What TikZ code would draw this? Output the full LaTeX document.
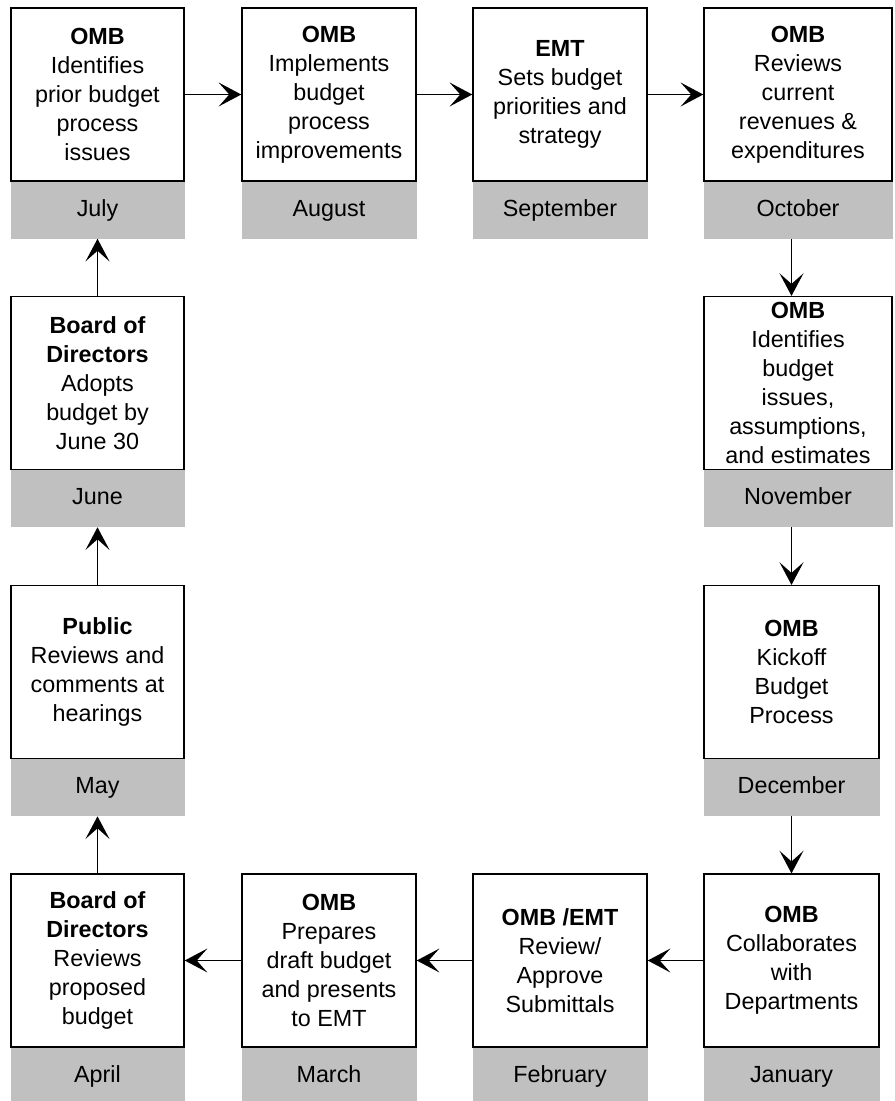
\documentclass[tikz,border=0pt]{standalone}
\usepackage{fontspec}
\setmainfont{Liberation Sans}
\usetikzlibrary{positioning,arrows.meta}
\definecolor{monthgray}{RGB}{192,192,192}
\begin{document}
\begin{tikzpicture}[x=0.75pt,y=-0.75pt,
  stepbox/.style={draw, line width=1.1pt, minimum width=#1, minimum height=129.5pt, align=center, inner sep=2pt, font=\fontsize{17.5}{21.75}\selectfont},
  monthbox/.style={fill=monthgray, minimum width=#1, minimum height=42.5pt, inner sep=0pt, text height=12.5pt, text depth=3.5pt, font=\fontsize{17.5}{21.75}\selectfont},
  arr/.style={line width=1.1pt, -{Stealth[length=17pt, width=18pt, inset=8pt]}}]
\useasboundingbox (0,0) rectangle (894,1101);
\node[stepbox=129.75pt] (jul) at (97.5,94.5){\textbf{OMB}\\Identifies\\prior budget\\process\\issues};
\node[monthbox=130.5pt, below=0pt of jul] (jul-m){July};
\node[stepbox=130.5pt] (aug) at (329,94.5){\textbf{OMB}\\Implements\\budget\\process\\improvements};
\node[monthbox=131.25pt, below=0pt of aug] (aug-m){August};
\node[stepbox=130.5pt] (sep) at (560,94.5){\textbf{EMT}\\Sets budget\\priorities and\\strategy};
\node[monthbox=131.25pt, below=0pt of sep] (sep-m){September};
\node[stepbox=141pt] (oct) at (798,94.5){\textbf{OMB}\\Reviews\\current\\revenues \&\\expenditures};
\node[monthbox=141.75pt, below=0pt of oct] (oct-m){October};
\node[stepbox=141pt] (nov) at (798,383){\textbf{OMB}\\Identifies\\budget\\issues,\\assumptions,\\and estimates};
\node[monthbox=141.75pt, below=0pt of nov] (nov-m){November};
\node[stepbox=131.25pt] (dec) at (791.5,672){\textbf{OMB}\\Kickoff\\Budget\\Process};
\node[monthbox=132pt, below=0pt of dec] (dec-m){December};
\node[stepbox=131.25pt] (jan) at (791.5,960.5){\textbf{OMB}\\Collaborates\\with\\Departments};
\node[monthbox=132pt, below=0pt of jan] (jan-m){January};
\node[stepbox=130.5pt] (feb) at (560,960.5){\textbf{OMB /EMT}\\Review/\\Approve\\Submittals};
\node[monthbox=131.25pt, below=0pt of feb] (feb-m){February};
\node[stepbox=130.5pt] (mar) at (329,960.5){\textbf{OMB}\\Prepares\\draft budget\\and presents\\to EMT};
\node[monthbox=131.25pt, below=0pt of mar] (mar-m){March};
\node[stepbox=129.75pt] (apr) at (97.5,960.5){\textbf{Board of}\\\textbf{Directors}\\Reviews\\proposed\\budget};
\node[monthbox=130.5pt, below=0pt of apr] (apr-m){April};
\node[stepbox=129.75pt] (may) at (97.5,672){\textbf{Public}\\Reviews and\\comments at\\hearings};
\node[monthbox=130.5pt, below=0pt of may] (may-m){May};
\node[stepbox=129.75pt] (jun) at (97.5,383){\textbf{Board of}\\\textbf{Directors}\\Adopts\\budget by\\June 30};
\node[monthbox=130.5pt, below=0pt of jun] (jun-m){June};
\draw[arr](jul) -- (aug);
\draw[arr](aug) -- (sep);
\draw[arr](sep) -- (oct);
\draw[arr](oct-m.south -| dec) -- (nov.north -| dec);
\draw[arr](nov-m.south -| dec) -- (dec);
\draw[arr](dec-m) -- (jan);
\draw[arr](jan) -- (feb);
\draw[arr](feb) -- (mar);
\draw[arr](mar) -- (apr);
\draw[arr](apr) -- (may-m);
\draw[arr](may) -- (jun-m);
\draw[arr](jun) -- (jul-m);
\end{tikzpicture}
\end{document}
